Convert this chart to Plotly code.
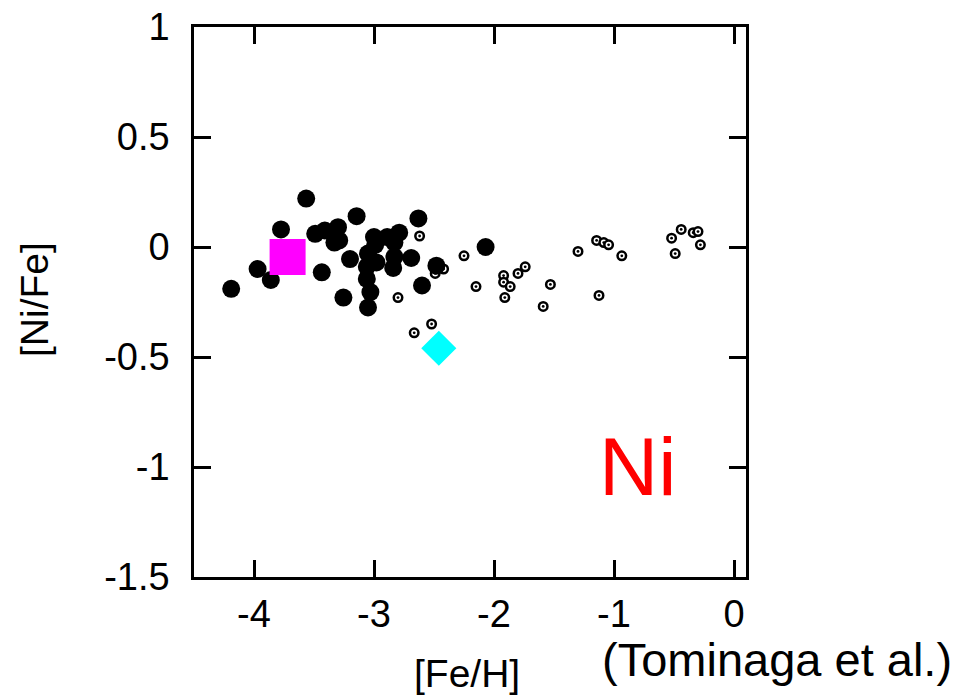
import plotly.graph_objects as go

# [Fe/H] vs [Ni/Fe]: extremely metal-poor stars (filled), other halo stars (open)
emp_feh = [-4.19, -3.97, -3.86, -3.775, -3.565, -3.49, -3.41, -3.30, -3.33, -3.29,
           -3.435, -3.145, -3.20, -3.255, -3.00, -2.89, -2.79, -2.83, -2.69, -3.05,
           -2.98, -3.06, -3.06, -3.03, -3.05, -2.84, -2.63, -2.60, -2.48, -2.07,
           -2.99, -2.83]
emp_nife = [-0.19, -0.10, -0.15, 0.08, 0.22, 0.06, 0.075, 0.09, 0.02, 0.03,
            -0.115, 0.14, -0.055, -0.23, 0.045, 0.045, 0.065, -0.045, -0.05, -0.03,
            -0.07, -0.09, -0.145, -0.205, -0.275, -0.095, 0.13, -0.175, -0.085, 0.00,
            0.01, 0.02]

halo_feh = [-2.62, -2.25, -2.80, -2.52, -2.665, -2.42, -2.49, -2.15, -1.92, -1.92,
            -1.865, -1.91, -1.80, -1.74, -1.59, -1.53, -1.30, -1.145, -1.085, -1.045,
            -0.935, -1.125, -0.52, -0.49, -0.44, -0.34, -0.30, -0.28]
halo_nife = [0.05, -0.04, -0.23, -0.35, -0.39, -0.10, -0.12, -0.18, -0.13, -0.16,
             -0.18, -0.23, -0.12, -0.09, -0.27, -0.17, -0.02, 0.03, 0.02, 0.01,
             -0.04, -0.22, 0.04, -0.03, 0.08, 0.065, 0.07, 0.01]

# Individual stars
hmp_feh, hmp_nife = [-3.72], [-0.045]
cyan_feh, cyan_nife = [-2.46], [-0.46]

x_ticks = [-4, -3, -2, -1, 0]
y_ticks = [1, 0.5, 0, -0.5, -1, -1.5]
y_tick_text = ["1", "0.5", "0", "-0.5", "-1", "-1.5"]

FONT = "Liberation Sans, Arial, Helvetica, sans-serif"

fig = go.Figure()

# Open circles: white disk with black ring, plus a black centre dot
fig.add_trace(go.Scatter(
    x=halo_feh, y=halo_nife, mode="markers",
    marker=dict(symbol="circle", size=8.5, color="white",
                line=dict(color="black", width=2.5)),
    hoverinfo="skip", showlegend=False))
fig.add_trace(go.Scatter(
    x=halo_feh, y=halo_nife, mode="markers",
    marker=dict(symbol="circle", size=2.8, color="black", line=dict(width=0)),
    hoverinfo="skip", showlegend=False))

fig.add_trace(go.Scatter(
    x=emp_feh, y=emp_nife, mode="markers",
    marker=dict(symbol="circle", size=18, color="black", line=dict(width=0)),
    showlegend=False))

fig.add_trace(go.Scatter(
    x=hmp_feh, y=hmp_nife, mode="markers",
    marker=dict(symbol="square", size=36, color="#ff00ff", line=dict(width=0)),
    showlegend=False))

fig.add_trace(go.Scatter(
    x=cyan_feh, y=cyan_nife, mode="markers",
    marker=dict(symbol="diamond", size=27, color="#00ffff", line=dict(width=0)),
    showlegend=False))

axis_common = dict(
    showgrid=False, zeroline=False, automargin=False,
    showline=True, linecolor="black", linewidth=2.5, mirror="ticks",
    ticks="inside", ticklen=17, tickwidth=2.5, tickcolor="black",
    tickfont=dict(family=FONT, size=38, color="black"),
)

fig.update_xaxes(range=[-4.5, 0.1], tickvals=x_ticks,
                 ticktext=[str(v) for v in x_ticks],
                 ticklabelstandoff=2, **axis_common)
fig.update_yaxes(range=[-1.5, 1], tickvals=y_ticks, ticktext=y_tick_text,
                 ticklabelstandoff=14, **axis_common)

fig.add_annotation(text="[Fe/H]", x=467, y=673, xref="paper", yref="paper",
                   showarrow=False, font=dict(family=FONT, size=39, color="black"))
fig.add_annotation(text="[Ni/Fe]", x=34, y=300, xref="paper", yref="paper",
                   textangle=-90, showarrow=False,
                   font=dict(family=FONT, size=39, color="black"))
fig.add_annotation(text="(Tominaga et al.)", x=777, y=659, xref="paper", yref="paper",
                   showarrow=False, font=dict(family=FONT, size=47, color="black"))
fig.add_annotation(text="Ni", x=637, y=466, xref="paper", yref="paper",
                   showarrow=False, font=dict(family=FONT, size=82, color="#ff0000"))

W, H = 964, 698
L, R, T, B = 194, 218, 27, 121

# place annotations in pixel coordinates converted to paper fractions
for ann in fig.layout.annotations:
    ann.x = (ann.x - L) / (W - L - R)
    ann.y = 1 - (ann.y - T) / (H - T - B)
    ann.xanchor = "center"
    ann.yanchor = "middle"

fig.update_layout(
    width=W, height=H,
    margin=dict(l=L, r=R, t=T, b=B),
    paper_bgcolor="white", plot_bgcolor="white",
    font=dict(family=FONT, color="black"),
)

fig.write_html("out.html")
